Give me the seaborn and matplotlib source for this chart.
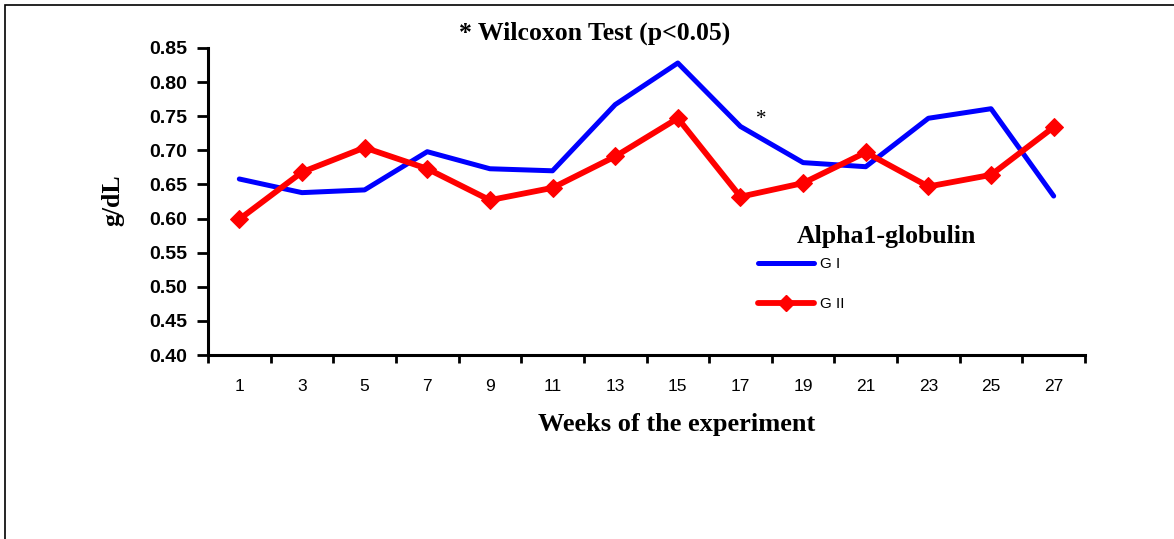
import matplotlib
matplotlib.use("Agg")
import matplotlib.pyplot as plt
import seaborn as sns
import pandas as pd
import numpy as np
from matplotlib.lines import Line2D
from matplotlib.patches import Rectangle

weeks = ["1", "3", "5", "7", "9", "11", "13", "15", "17", "19", "21", "23", "25", "27"]
g1 = [0.658, 0.638, 0.642, 0.698, 0.673, 0.670, 0.767, 0.828, 0.735, 0.682, 0.676, 0.747, 0.761, 0.633]
g2 = [0.599, 0.668, 0.704, 0.673, 0.627, 0.645, 0.691, 0.747, 0.632, 0.652, 0.697, 0.647, 0.664, 0.734]
series_names = ["G I", "G II"]
y_ticks = [0.40, 0.45, 0.50, 0.55, 0.60, 0.65, 0.70, 0.75, 0.80, 0.85]

sns.set_theme(style="white")
plt.rcParams['font.family'] = ['Liberation Sans', 'DejaVu Sans']
plt.rcParams.update({"text.color": "black", "axes.labelcolor": "black",
                     "xtick.color": "black", "ytick.color": "black"})

W, H = 1174, 539
fig = plt.figure(figsize=(W / 100, H / 100), dpi=100)
ax = fig.add_axes([208 / W, 1 - 355 / H, (1085 - 208) / W, (355 - 48) / H])

df = pd.DataFrame({"week": weeks * 2, "value": g1 + g2,
                   "group": [series_names[0]] * len(weeks) + [series_names[1]] * len(weeks)})

sns.lineplot(data=df[df.group == "G I"], x="week", y="value", ax=ax, color="#0000ff",
             linewidth=3.6, sort=False, legend=False)
sns.lineplot(data=df[df.group == "G II"], x="week", y="value", ax=ax, color="#ff0000",
             linewidth=4.2, marker="D", markersize=9, markeredgecolor="#ff0000", sort=False, legend=False)

ax.set_xlim(-0.5, len(weeks) - 0.5)
ax.set_ylim(0.40, 0.85)
ax.set_yticks(y_ticks)
ax.set_yticklabels([f"{v:.2f}" for v in y_ticks], fontsize=14, fontweight="bold")
ax.set_xticks(range(len(weeks)))
ax.set_xticklabels(weeks, fontsize=12.5)
ax.set_xticks(np.arange(-0.5, len(weeks), 1.0), minor=True)
ax.tick_params(axis="x", which="major", length=0, pad=17, colors="black")
ax.tick_params(axis="x", which="minor", length=6, width=2, direction="out", color="black", bottom=True)
ax.tick_params(axis="y", which="major", length=8, width=2, direction="out", color="black", left=True, pad=7)
for s in ["top", "right"]:
    ax.spines[s].set_visible(False)
for s in ["left", "bottom"]:
    ax.spines[s].set_color("black")
    ax.spines[s].set_linewidth(2.2)
ax.set_xlabel("")
ax.set_ylabel("")
ax.set_facecolor("white")
ax.patch.set_alpha(0)

serif = ['Liberation Serif', 'DejaVu Serif']
fig.text(595 / W, 1 - 33 / H, "* Wilcoxon Test (p<0.05)", ha="center", va="center",
         fontsize=18.5, fontweight="bold", family=serif, color="black")
fig.text(677 / W, 1 - 425 / H, "Weeks of the experiment", ha="center", va="center",
         fontsize=19, fontweight="bold", family=serif, color="black")
fig.text(113 / W, 1 - 200 / H, "g/dL", ha="center", va="center", rotation=90,
         fontsize=18.5, fontweight="bold", family=serif, color="black")
fig.text(886 / W, 1 - 237 / H, "Alpha1-globulin", ha="center", va="center",
         fontsize=18.5, fontweight="bold", family=serif, color="black")
ax.text(8.33, 0.745, "*", ha="center", va="center", fontsize=15, family=serif, color="black")

handles = [Line2D([], [], color="#0000ff", linewidth=3.6),
           Line2D([], [], color="#ff0000", linewidth=4.2, marker="D", markersize=8)]
fig.legend(handles, series_names, loc="upper left", bbox_to_anchor=(758 / W, 1 - 257 / H),
           frameon=False, fontsize=11, handlelength=3.65, handletextpad=0.4,
           labelspacing=1.7, borderpad=0, borderaxespad=0, labelcolor="black")

fig.patches.append(Rectangle((5 / W, -0.1), 1.2, 1 - 5 / H + 0.1, transform=fig.transFigure,
                             fill=False, edgecolor="black", linewidth=1.2))

fig.savefig("out.png", dpi=100, facecolor="white")
